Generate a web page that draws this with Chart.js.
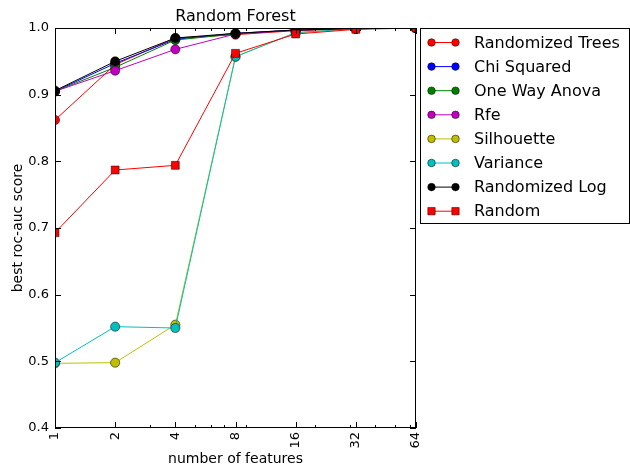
<!DOCTYPE html>
<html>
<head>
<meta charset="utf-8">
<script src="https://cdn.jsdelivr.net/npm/chart.js@4/dist/chart.umd.min.js"></script>
<style>
  html, body { margin: 0; padding: 0; background: #fff; }
  canvas { display: block; }
</style>
</head>
<body>
<canvas id="c" width="630" height="468"></canvas>
<script>
// Number of selected features (log2 axis)
const features = [1, 2, 4, 8, 16, 32, 64];
const xMinorTicks = [3, 5, 6, 7, 9, 20, 30, 40, 50, 60];
const yTicks = [0.4, 0.5, 0.6, 0.7, 0.8, 0.9, 1.0];

// Best ROC-AUC score per selection method
const randomizedTrees = [0.862, 0.945, 0.985, 0.990, 0.996, 0.999, 1.000];
const chiSquared      = [0.905, 0.947, 0.983, 0.992, 0.997, 0.999, 1.000];
const oneWayAnova     = [0.905, 0.941, 0.982, 0.991, 0.997, 0.999, 1.000];
const rfe             = [0.905, 0.936, 0.968, 0.991, 0.997, 0.999, 1.000];
const silhouette      = [0.497, 0.498, 0.555, 0.957, 0.993, 0.999, 1.000];
const variance        = [0.498, 0.552, 0.550, 0.957, 0.993, 0.999, 1.000];
const randomizedLog   = [0.906, 0.950, 0.985, 0.992, 0.997, 0.999, 1.000];
const randomSel       = [0.693, 0.787, 0.794, 0.962, 0.991, 0.998, 1.000];

const seriesNames = ['Randomized Trees', 'Chi Squared', 'One Way Anova', 'Rfe',
                     'Silhouette', 'Variance', 'Randomized Log', 'Random'];
const seriesValues = [randomizedTrees, chiSquared, oneWayAnova, rfe,
                      silhouette, variance, randomizedLog, randomSel];
const seriesColors = ['#ff0000', '#0000ff', '#008000', '#bf00bf',
                      '#bfbf00', '#00bfbf', '#000000', '#ff0000'];
const seriesMarkers = ['circle', 'circle', 'circle', 'circle',
                       'circle', 'circle', 'circle', 'rect'];

const FONT = '"DejaVu Sans", "Liberation Sans", sans-serif';

const datasets = seriesNames.map((name, i) => ({
  label: name,
  data: features.map((f, j) => ({ x: f, y: seriesValues[i][j] })),
  borderColor: seriesColors[i],
  backgroundColor: seriesColors[i],
  pointBackgroundColor: seriesColors[i],
  pointBorderColor: '#000000',
  pointBorderWidth: 0.5,
  pointStyle: seriesMarkers[i],
  pointRadius: seriesMarkers[i] === 'rect' ? 5.6 : 4.6,
  borderWidth: 1,
  tension: 0,
  fill: false,
  order: seriesNames.length - i
}));

// Axes frame with inward ticks on all four sides, title and legend box
const framePlugin = {
  id: 'frame',
  afterDatasetsDraw(chart) {
    const { ctx, chartArea: a } = chart;
    const xs = chart.scales.x, ys = chart.scales.y;
    ctx.save();
    ctx.strokeStyle = '#000';
    ctx.lineWidth = 1;
    ctx.strokeRect(a.left + 0.5, a.top + 0.5, a.right - a.left - 1, a.bottom - a.top - 1);
    ctx.beginPath();
    const major = 6, minor = 3;
    features.forEach(v => {
      const px = Math.round(xs.getPixelForValue(v)) + 0.5;
      ctx.moveTo(px, a.bottom); ctx.lineTo(px, a.bottom - major);
      ctx.moveTo(px, a.top); ctx.lineTo(px, a.top + major);
    });
    xMinorTicks.forEach(v => {
      const px = Math.round(xs.getPixelForValue(v)) + 0.5;
      ctx.moveTo(px, a.bottom); ctx.lineTo(px, a.bottom - minor);
      ctx.moveTo(px, a.top); ctx.lineTo(px, a.top + minor);
    });
    yTicks.forEach(v => {
      const py = Math.round(ys.getPixelForValue(v)) + 0.5;
      ctx.moveTo(a.left, py); ctx.lineTo(a.left + major, py);
      ctx.moveTo(a.right, py); ctx.lineTo(a.right - major, py);
    });
    ctx.stroke();
    ctx.restore();
  },
  afterDraw(chart) {
    const { ctx, chartArea: a } = chart;
    ctx.save();
    // Title
    ctx.fillStyle = '#000';
    ctx.font = '16px ' + FONT;
    ctx.textAlign = 'center';
    ctx.textBaseline = 'middle';
    ctx.fillText('Random Forest', (a.left + a.right) / 2, 17);

    // Legend
    const bx = 420.5, by = 28.5, bw = 209, bh = 195;
    ctx.fillStyle = '#fff';
    ctx.fillRect(bx, by, bw, bh);
    ctx.strokeStyle = '#000';
    ctx.lineWidth = 1;
    ctx.strokeRect(bx, by, bw, bh);
    ctx.font = '16px ' + FONT;
    ctx.textAlign = 'left';
    ctx.textBaseline = 'middle';
    chart.data.datasets.forEach((ds, i) => {
      const y = 42.5 + i * 24.1;
      const x1 = 431.5, x2 = 455.5;
      ctx.strokeStyle = ds.borderColor;
      ctx.lineWidth = 1;
      ctx.beginPath();
      ctx.moveTo(x1, y); ctx.lineTo(x2, y);
      ctx.stroke();
      const opts = {
        pointStyle: ds.pointStyle,
        radius: ds.pointStyle === 'rect' ? 5.2 : 3.8,
        rotation: 0,
        borderWidth: 0.5
      };
      ctx.fillStyle = ds.pointBackgroundColor;
      ctx.strokeStyle = ds.pointBorderColor;
      ctx.lineWidth = 0.5;
      Chart.helpers.drawPoint(ctx, opts, x1, y);
      Chart.helpers.drawPoint(ctx, opts, x2, y);
      ctx.fillStyle = '#000';
      ctx.fillText(ds.label, 474, y + 1);
    });
    ctx.restore();
  }
};

new Chart(document.getElementById('c'), {
  type: 'line',
  data: { datasets },
  options: {
    responsive: false,
    animation: false,
    devicePixelRatio: 1,
    layout: { padding: { top: 28, right: 214, left: 0, bottom: 0 } },
    plugins: {
      legend: { display: false },
      title: { display: false },
      tooltip: { enabled: false }
    },
    scales: {
      x: {
        type: 'logarithmic',
        min: 1,
        max: 64,
        afterBuildTicks(scale) {
          scale.ticks = features.map(v => ({ value: v }));
        },
        afterFit(scale) { scale.height = 40; },
        grid: { display: false, drawTicks: false },
        border: { display: false },
        ticks: {
          autoSkip: false,
          minRotation: 90,
          maxRotation: 90,
          padding: 4,
          color: '#000',
          font: { family: FONT, size: 13 },
          callback: v => String(v)
        },
        title: {
          display: true,
          text: 'number of features',
          color: '#000',
          font: { family: FONT, size: 14 },
          padding: { top: 0, bottom: 0 }
        }
      },
      y: {
        type: 'linear',
        min: 0.4,
        max: 1.0,
        afterBuildTicks(scale) {
          scale.ticks = yTicks.map(v => ({ value: v }));
        },
        afterFit(scale) { scale.width = 55; },
        grid: { display: false, drawTicks: false },
        border: { display: false },
        ticks: {
          padding: 6,
          color: '#000',
          font: { family: FONT, size: 13 },
          callback: v => Number(v).toFixed(1)
        },
        title: {
          display: true,
          text: 'best roc-auc score',
          color: '#000',
          font: { family: FONT, size: 14 },
          padding: { top: 10, bottom: 0 }
        }
      }
    }
  },
  plugins: [framePlugin]
});
</script>
</body>
</html>
